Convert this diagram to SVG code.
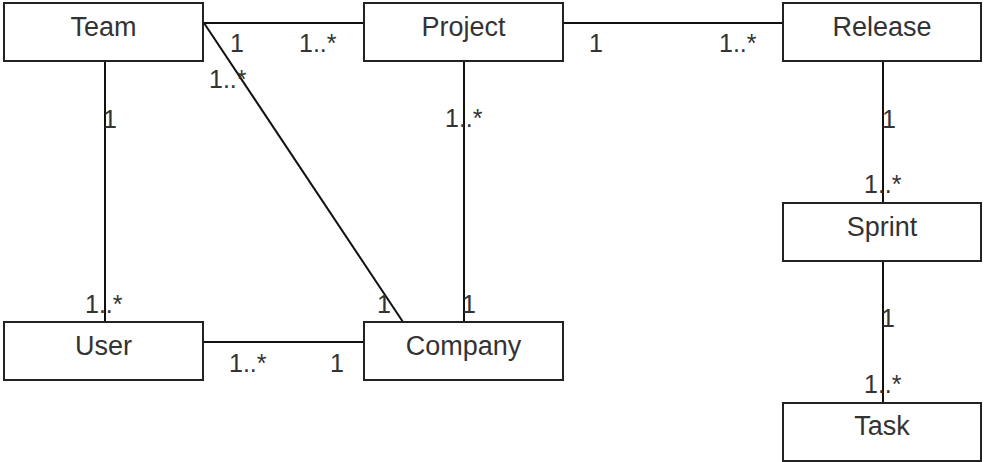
<svg xmlns="http://www.w3.org/2000/svg" width="984" height="462" viewBox="0 0 984 462">
<style>
.box{fill:#fff;stroke:#222;stroke-width:2}
.name{font-family:"Liberation Sans",Arial,sans-serif;font-size:27px;fill:#333;text-anchor:middle}
.mult{font-family:"Liberation Sans",Arial,sans-serif;font-size:25px;fill:#333}
.edge{stroke:#111;stroke-width:2;fill:none}
</style>
<rect width="984" height="462" fill="#fff"/>
<g id="connectors">
<line class="edge" x1="203" y1="23" x2="364" y2="23"/>
<line class="edge" x1="563" y1="23" x2="783" y2="23"/>
<line class="edge" x1="105" y1="61" x2="105" y2="322"/>
<line class="edge" x1="204" y1="23" x2="403" y2="322"/>
<line class="edge" x1="464" y1="61" x2="464" y2="322"/>
<line class="edge" x1="203" y1="342" x2="364" y2="342"/>
<line class="edge" x1="883" y1="61" x2="883" y2="203"/>
<line class="edge" x1="883" y1="261" x2="883" y2="403"/>
<text class="mult" x="230" y="52">1</text>
<text class="mult" x="299" y="52">1..*</text>
<text class="mult" x="209" y="88">1..*</text>
<text class="mult" x="103" y="128">1</text>
<text class="mult" x="85" y="313">1..*</text>
<text class="mult" x="377" y="313">1</text>
<text class="mult" x="229" y="372">1..*</text>
<text class="mult" x="330" y="372">1</text>
<text class="mult" x="445" y="127">1..*</text>
<text class="mult" x="462" y="313">1</text>
<text class="mult" x="589" y="52">1</text>
<text class="mult" x="719" y="52">1..*</text>
<text class="mult" x="882" y="128">1</text>
<text class="mult" x="864" y="193">1..*</text>
<text class="mult" x="881" y="327">1</text>
<text class="mult" x="864" y="393">1..*</text>
</g>
<g id="team"><rect class="box" x="4" y="3" width="199" height="58"/><text class="name" x="103.5" y="36">Team</text></g>
<g id="project"><rect class="box" x="364" y="3" width="199" height="58"/><text class="name" x="463.5" y="36">Project</text></g>
<g id="release"><rect class="box" x="783" y="3" width="198" height="58"/><text class="name" x="882" y="36">Release</text></g>
<g id="sprint"><rect class="box" x="783" y="203" width="198" height="58"/><text class="name" x="882" y="236">Sprint</text></g>
<g id="task"><rect class="box" x="783" y="403" width="198" height="58"/><text class="name" x="882" y="435">Task</text></g>
<g id="user"><rect class="box" x="4" y="322" width="199" height="58"/><text class="name" x="103.5" y="355">User</text></g>
<g id="company"><rect class="box" x="364" y="322" width="199" height="58"/><text class="name" x="463.5" y="355">Company</text></g>
</svg>
